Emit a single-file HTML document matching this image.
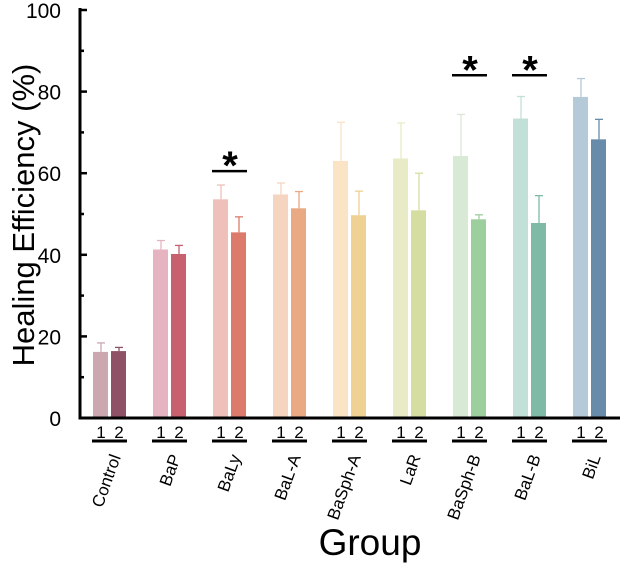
<!DOCTYPE html>
<html><head><meta charset="utf-8"><style>
html,body{margin:0;padding:0;background:#fff;}
svg{display:block;font-family:"Liberation Sans",Arial,sans-serif;}
</style></head><body>
<svg id="chart" width="620" height="563" viewBox="0 0 620 563">
<g id="axes"></g>
<g id="bars"></g>
<g id="labels"></g>
<text x="0" y="0" transform="translate(34,215) rotate(-90)" text-anchor="middle" font-size="31">Healing Efficiency (%)</text>
<text x="370" y="555" text-anchor="middle" font-size="37">Group</text>
</svg>
<script>
const categories = ["Control","BaP","BaLy","BaL-A","BaSph-A","LaR","BaSph-B","BaL-B","BiL"];
const series1 = [16.2,41.3,53.6,54.8,63.0,63.6,64.2,73.4,78.7];
const series1Err = [2.2,2.2,3.5,2.8,9.5,8.7,10.2,5.4,4.5];
const series2 = [16.4,40.2,45.5,51.4,49.7,50.9,48.7,47.8,68.3];
const series2Err = [0.9,2.1,3.8,4.1,5.9,9.1,1.1,6.7,4.9];
const color1 = ["#cba8b0","#e6b4c0","#efbfb9","#f5d5c0","#fbe3c6","#e8ebc6","#d8e9d5","#c2e0d8","#b5cad9"];
const color2 = ["#8e5165","#c7606f","#dc7b6b","#e8a983","#eed193","#d5dea0","#9dcf9e","#7ebaa6","#678ba8"];
const significant = ["BaLy","BaSph-B","BaL-B"];
const significanceLevel = [60.5,84,84];
const yTicks = [0,20,40,60,80,100];

const NS="http://www.w3.org/2000/svg";
const y0=418, y100=10;
function yScale(v){return y0-(y0-y100)*v/100;}
function xCenter(i){return 110+i*60;}
function mk(tag,attrs,parent){const e=document.createElementNS(NS,tag);for(const k in attrs)e.setAttribute(k,attrs[k]);parent.appendChild(e);return e;}
const axes=document.getElementById('axes'),bars=document.getElementById('bars'),labels=document.getElementById('labels');

let l=mk('line',{x1:80,y1:y100-2,x2:80,y2:y0+1.5,stroke:'#000','stroke-width':3},axes);


l=mk('line',{x1:78.5,y1:y0,x2:620,y2:y0,stroke:'#000','stroke-width':3},axes);


yTicks.forEach(v=>{
  const t=mk('line',{x1:80,x2:87,y1:yScale(v),y2:yScale(v),stroke:'#000','stroke-width':2.5},axes);
  
  
  if(v<100){
    const m=mk('line',{x1:80,x2:84,y1:yScale(v+10),y2:yScale(v+10),stroke:'#000','stroke-width':2.5},axes);
    
    
  }
  const tx=mk('text',{x:61,y:yScale(v)+8,'text-anchor':'end','font-size':21},axes);
  tx.textContent=v;
  
  
});

categories.forEach((c,i)=>{
  const cx=xCenter(i);
  [[series1,series1Err,color1,cx-17,'1'],[series2,series2Err,color2,cx+1,'2']].forEach(([s,e,col,x,n])=>{
    const v=s[i],top=yScale(v);
    const ey=yScale(v+e[i]);
    const el=mk('line',{x1:x+8,x2:x+8,y1:top,y2:ey,stroke:col[i],'stroke-width':1.3},bars);
    
    
    const ec=mk('line',{x1:x+4,x2:x+12,y1:ey,y2:ey,stroke:col[i],'stroke-width':1.3},bars);
    
    
    const r=mk('rect',{x:x,y:top,width:15,height:y0-1.5-top,fill:col[i]},bars);
    
    
    const t=mk('text',{x:x+8,y:438,'text-anchor':'middle','font-size':17},labels);
    t.textContent=n;
    
    
  });
  const u=mk('line',{x1:cx-18,x2:cx+17,y1:441,y2:441,stroke:'#000','stroke-width':3},labels);
  
  
  const g=mk('text',{transform:`translate(${cx+11},457) rotate(-70)`,'text-anchor':'end','font-size':17},labels);
  g.textContent=c;
  
  
  const si=significant.indexOf(c);
  if(si>=0){
    const top=yScale(significanceLevel[si]);
    const sl=mk('line',{x1:cx-18,x2:cx+17,y1:top,y2:top,stroke:'#000','stroke-width':2.5},labels);
    
    
    const st=mk('text',{x:cx,y:top+8,'text-anchor':'middle','font-size':40,'font-weight':'bold'},labels);
    st.textContent='*';
    
    
  }
});
</script>
</body></html>
